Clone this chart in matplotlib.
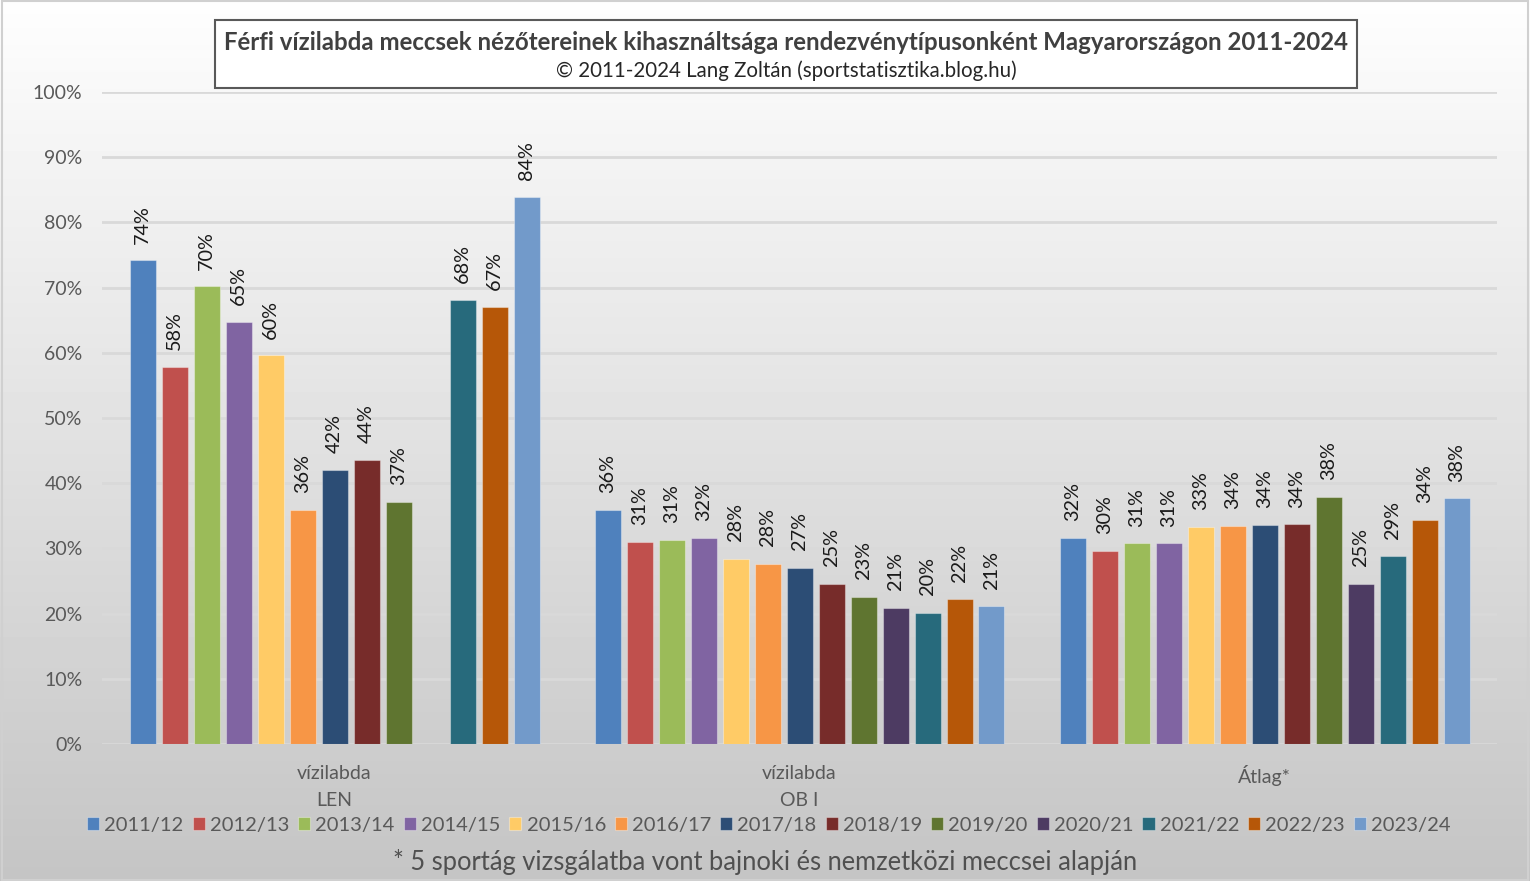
import numpy as np
import matplotlib.pyplot as plt
from matplotlib.patches import Rectangle

plt.rcParams["font.family"] = ["Lato", "DejaVu Sans"]

CATEGORIES = ["vízilabda\nLEN", "vízilabda\nOB I", "Átlag*"]
SEASONS = ["2011/12", "2012/13", "2013/14", "2014/15", "2015/16", "2016/17",
           "2017/18", "2018/19", "2019/20", "2020/21", "2021/22", "2022/23",
           "2023/24"]
COLORS = ["#4f81bd", "#c0504d", "#9bbb59", "#8064a2", "#ffcb66", "#f79646",
          "#2c4d75", "#772c2a", "#5f7530", "#4d3b62", "#276a7c", "#b65708",
          "#729aca"]

# percentages per category, one list per season
LEN = [74.2, 57.8, 70.2, 64.7, 59.6, 35.9, 42.0, 43.6, 37.1, np.nan, 68.1, 67.0, 83.9]
OB1 = [35.9, 31.0, 31.3, 31.6, 28.4, 27.6, 27.0, 24.6, 22.6, 20.9, 20.1, 22.2, 21.1]
ATLAG = [31.6, 29.6, 30.8, 30.8, 33.3, 33.5, 33.6, 33.7, 37.9, 24.6, 28.8, 34.4, 37.7]

TITLE = "Férfi vízilabda meccsek nézőtereinek kihasználtsága rendezvénytípusonként Magyarországon 2011-2024"
SUBTITLE = "© 2011-2024 Lang Zoltán (sportstatisztika.blog.hu)"
FOOTNOTE = "* 5 sportág vizsgálatba vont bajnoki és nemzetközi meccsei alapján"

W, H = 1530, 881
fig = plt.figure(figsize=(W / 100, H / 100), dpi=100)

# background gradient
bg = fig.add_axes([0, 0, 1, 1], zorder=-10)
grad = np.linspace(0.995, 0.77, 256).reshape(-1, 1)
bg.imshow(grad, cmap="gray", vmin=0, vmax=1, aspect="auto", extent=[0, 1, 0, 1])
bg.add_patch(Rectangle((0.001, 0.001), 0.998, 0.998, fill=False,
                       edgecolor="#d0d0d0", linewidth=1.5))
bg.set_xlim(0, 1)
bg.set_ylim(0, 1)
bg.axis("off")

ax = fig.add_axes([102 / W, 1 - 744 / H, 1395 / W, 652 / H])
ax.patch.set_alpha(0)

values = np.array([LEN, OB1, ATLAG])
x = np.arange(len(CATEGORIES))
slot = 32 / 465
bw = 26 / 465

for i, season in enumerate(SEASONS):
    pos = x + (i - 6) * slot
    vals = values[:, i]
    ax.bar(pos, vals, width=bw, color=COLORS[i], label=season, zorder=3,
           edgecolor=(1, 1, 1, 0.35), linewidth=0.8)
    for px, v in zip(pos, vals):
        if np.isnan(v):
            continue
        ax.annotate(f"{v:.0f}%", (px, v), xytext=(0, 12), textcoords="offset points",
                    rotation=90, ha="center", va="bottom", fontsize=14.3,
                    color="#1a1a1a", zorder=4)

ax.set_xlim(-0.5, 2.5)
ax.set_ylim(0, 100)
ax.set_yticks(np.arange(0, 101, 10))
ax.set_yticklabels([f"{t}%" for t in range(0, 101, 10)])
ax.set_xticks(x)
ax.set_xticklabels(CATEGORIES, linespacing=1.75)
ax.tick_params(axis="y", length=0, pad=14, labelsize=14, labelcolor="#595959")
ax.tick_params(axis="x", length=0, pad=15, labelsize=14, labelcolor="#595959")
ax.grid(axis="y", color="#d9d9d9", linewidth=2, zorder=0)
for s in ax.spines.values():
    s.set_visible(False)

leg = fig.legend(loc="center", bbox_to_anchor=(769 / W, 1 - 825 / H), ncol=13,
                 frameon=False, fontsize=14.5, handlelength=0.6, handleheight=0.6,
                 handletextpad=0.25, columnspacing=0.45, labelcolor="#595959")

# title box
fig.patches.append(Rectangle((215 / W, 1 - 88 / H), 1142 / W, 68 / H,
                             transform=fig.transFigure, facecolor="white",
                             edgecolor="#595959", linewidth=1.5, zorder=5))
fig.text(786 / W, 1 - 42 / H, TITLE, ha="center", va="center", fontsize=17.3,
         fontweight="bold", color="#404040", zorder=6)
fig.text(786 / W, 1 - 71 / H, SUBTITLE, ha="center", va="center", fontsize=14.8,
         color="#262626", zorder=6)
fig.text(765 / W, 1 - 862 / H, FOOTNOTE, ha="center", va="center", fontsize=18.4,
         color="#505050")

fig.savefig("out.png", dpi=100)
